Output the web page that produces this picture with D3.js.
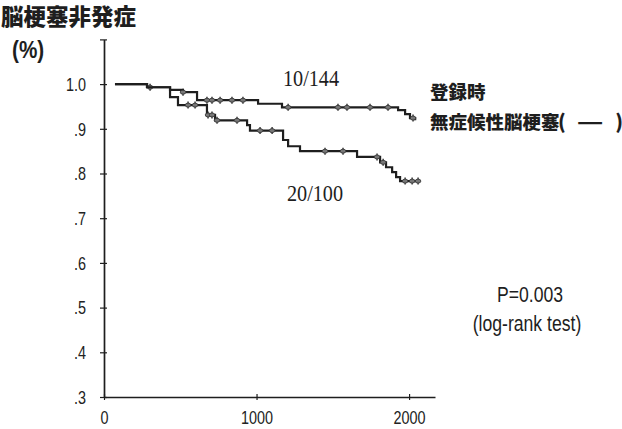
<!DOCTYPE html>
<html><head><meta charset="utf-8">
<script src="https://cdn.jsdelivr.net/npm/d3@7"></script>
<style>
body{margin:0;background:#fff;}
svg{display:block;}
.tk text{font-family:"Liberation Sans",Arial,sans-serif;font-size:18px;fill:#222;}
</style></head>
<body>
<svg id="c" width="622" height="429"></svg>
<script>
// ---- data ----
const timesNeg = [72, 282, 433, 518, 610, 1010, 1167, 1928, 1974, 2006, 2040];
const survNeg  = [1.0, 0.993, 0.987, 0.982, 0.964, 0.956, 0.948, 0.942, 0.933, 0.924, 0.919];
const censorNeg = [302, 518, 675, 708, 761, 839, 911, 1207, 1534, 1593, 1744, 1862, 2026];

const timesPos = [72, 282, 433, 485, 675, 728, 938, 957, 1174, 1207, 1285, 1659, 1810, 1849, 1889, 1915, 1941, 2072];
const survPos  = [1.0, 0.993, 0.971, 0.953, 0.931, 0.919, 0.908, 0.896, 0.875, 0.861, 0.850, 0.837, 0.825, 0.814, 0.803, 0.792, 0.783, 0.783];
const censorPos = [551, 597, 682, 708, 741, 872, 1023, 1102, 1449, 1567, 1790, 1830, 1974, 2020, 2059];

const yTicks = [0.3, 0.4, 0.5, 0.6, 0.7, 0.8, 0.9, 1.0, 1.1];
const yTickLabels = [".3", ".4", ".5", ".6", ".7", ".8", ".9", "1.0", ""];
const xTicks = [0, 1000, 2000];
const xTickLabels = ["0", "1000", "2000"];

// ---- chart ----
const svg = d3.select("#c");
const ink = "#1e1e1e";
const x = d3.scaleLinear().domain([0, 2170]).range([104, 435]);
const y = d3.scaleLinear().domain([0.3, 1.1]).range([397, 39.4]);
const SX = 0.8; // narrow glyphs

const yAxis = d3.axisLeft(y).tickValues(yTicks)
  .tickFormat((d, i) => yTickLabels[i]).tickSizeInner(4).tickSizeOuter(0);
const gy = svg.append("g").attr("class", "tk").attr("transform", "translate(104,0)").call(yAxis);
gy.select(".domain").attr("stroke", ink).attr("stroke-width", 1.7);
gy.selectAll(".tick line").attr("stroke", ink).attr("stroke-width", 1.2).attr("x2", -4).attr("x1", 3);
gy.selectAll(".tick text").attr("x", null).attr("dy", "0.35em")
  .attr("transform", `translate(-18,0) scale(${SX},1)`);

const xAxis = d3.axisBottom(x).tickValues(xTicks)
  .tickFormat((d, i) => xTickLabels[i]).tickSizeInner(4).tickSizeOuter(0);
const gx = svg.append("g").attr("class", "tk").attr("transform", "translate(0,397)").call(xAxis);
gx.select(".domain").attr("stroke", ink).attr("stroke-width", 1.7);
gx.selectAll(".tick line").attr("stroke", ink).attr("stroke-width", 1.2).attr("y1", -3).attr("y2", 3);
gx.selectAll(".tick text").attr("y", null).attr("dy", "0.71em")
  .attr("transform", `translate(0,14) scale(${SX},1)`);

function stepValue(times, surv, t) {
  let v = surv[0];
  for (let i = 0; i < times.length; i++) if (times[i] <= t) v = surv[i];
  return v;
}

function drawCurve(times, surv, censor) {
  const pts = times.map((t, i) => [t, surv[i]]);
  const line = d3.line().x(d => x(d[0])).y(d => y(d[1])).curve(d3.curveStepAfter);
  svg.append("path").datum(pts).attr("d", line)
    .attr("fill", "none").attr("stroke", ink).attr("stroke-width", 2.2);
  const g = svg.append("g");
  censor.forEach((t) => {
    const cx = x(t), cy = y(stepValue(times, surv, t));
    g.append("line").attr("x1", cx).attr("x2", cx).attr("y1", cy - 3.5).attr("y2", cy + 3.5)
      .attr("stroke", ink).attr("stroke-width", 1.3);
    g.append("ellipse").attr("cx", cx).attr("cy", cy).attr("rx", 2.8).attr("ry", 2)
      .attr("fill", "#777").attr("stroke", "#333").attr("stroke-width", 0.8);
  });
}
drawCurve(timesNeg, survNeg, censorNeg);
drawCurve(timesPos, survPos, censorPos);

// ---- texts ----
const cjk = '"Noto Sans CJK JP","Noto Sans CJK SC",sans-serif';
const sans = '"Liberation Sans",Arial,sans-serif';
const serif = '"Liberation Serif","DejaVu Serif",serif';
function txt(s, px, py, font, size, weight, anchor, sx) {
  svg.append("text").attr("transform", `translate(${px},${py}) scale(${sx || 1},1)`).text(s)
    .attr("font-family", font).attr("font-size", size).attr("font-weight", weight || "normal")
    .attr("text-anchor", anchor || "start").attr("fill", ink);
}
txt("脳梗塞非発症", 1, 25, cjk, 22.5, "900");
txt("(%)", 12, 58, sans, 23, "bold", "start", 0.9);
txt("10/144", 311, 86, serif, 23, "normal", "middle", 0.88);
txt("20/100", 315, 201, serif, 23, "normal", "middle", 0.88);
txt("登録時", 430, 99, cjk, 18.5, "900");
txt("無症候性脳梗塞", 430, 129, cjk, 18.5, "900");
txt("(", 558, 129, cjk, 19.5, "900");
txt("—", 590, 129, cjk, 19.5, "900", "middle", 1.5);
txt(")", 623, 129, cjk, 19.5, "900", "end");
txt("P=0.003", 530, 302, sans, 22, "normal", "middle", SX);
txt("(log-rank test)", 527, 331, sans, 22, "normal", "middle", SX);
</script>
</body></html>
